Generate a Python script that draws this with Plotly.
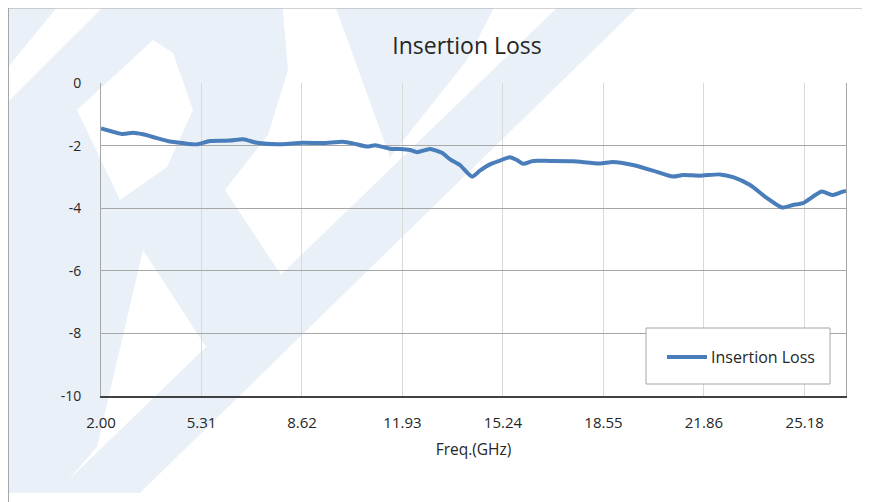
import plotly.graph_objects as go

# ---- data ----
freq_ghz = [2.00, 2.72, 3.05, 3.38, 3.84, 4.27, 4.70, 5.16, 5.59, 6.25, 6.68, 7.14, 7.80,
            8.65, 9.31, 9.97, 10.30, 10.76, 11.03, 11.52, 11.85, 12.18, 12.41, 12.84,
            13.23, 13.50, 13.82, 14.22, 14.48, 14.81, 15.14, 15.47, 15.70, 15.90, 16.23,
            16.79, 17.55, 18.44, 18.86, 19.52, 20.18, 20.84, 21.17, 21.73, 22.39, 22.82,
            23.38, 23.94, 24.43, 24.79, 25.12, 25.74, 26.08, 26.44, 26.54]
insertion_loss = [-1.45, -1.63, -1.59, -1.64, -1.76, -1.87, -1.92, -1.96, -1.85, -1.84,
                  -1.80, -1.91, -1.96, -1.91, -1.92, -1.88, -1.93, -2.03, -1.99, -2.10,
                  -2.11, -2.14, -2.21, -2.11, -2.23, -2.44, -2.62, -2.99, -2.80, -2.60,
                  -2.48, -2.37, -2.46, -2.58, -2.49, -2.49, -2.50, -2.57, -2.52, -2.62,
                  -2.80, -2.99, -2.94, -2.96, -2.92, -3.01, -3.26, -3.68, -3.98, -3.90,
                  -3.84, -3.47, -3.58, -3.47, -3.45]
x_tick_vals = [2.00, 5.31, 8.62, 11.93, 15.24, 18.55, 21.86, 25.18]
x_tick_text = ["2.00", "5.31", "8.62", "11.93", "15.24", "18.55", "21.86", "25.18"]
y_tick_vals = [0, -2, -4, -6, -8, -10]
y_tick_text = ["0", "-2", "-4", "-6", "-8", "-10"]
series_name = "Insertion Loss"

# ---- layout geometry (page pixels; the page body has an 8px margin) ----
OFF = 8
W, H = 870 - OFF, 502 - OFF
L, R, T, B = 101, 846, 83, 396
pw, ph = R - L, B - T


def px(x):
    return (x - L) / pw


def py(y):
    return (B - y) / ph


def poly(points):
    return "M " + " L ".join(f"{px(x):.4f},{py(y):.4f}" for x, y in points) + " Z"


wm = "#e9f0f8"
shapes = []
watermark = [
    [(0, 0), (63, 0), (0, 77)],
    [(565, 0), (645, 0), (140, 493), (55, 493)],
    [(333, 0), (498, 0), (467, 60), (390, 157)],
]
for pts in watermark:
    shapes.append(dict(type="path", xref="paper", yref="paper", path=poly(pts),
                       fillcolor=wm, line=dict(width=0), layer="below"))
r_outer = [(110, 0), (282, 0), (288, 70), (268, 135), (225, 190), (281, 275), (206, 347),
           (143, 250), (97, 447), (57, 493), (0, 493), (0, 110)]
r_hole = [(77, 110), (153, 40), (173, 53), (193, 110), (167, 167), (120, 200)]
shapes.append(dict(type="path", xref="paper", yref="paper",
                   path=poly(r_outer) + " " + poly(r_hole[::-1]),
                   fillcolor=wm, line=dict(width=0), layer="below"))

# outer chart frame (top and left)
shapes.append(dict(type="line", xref="paper", yref="paper", x0=px(8), x1=px(870),
                   y0=py(8), y1=py(8), line=dict(color="#a6a6a6", width=1)))
shapes.append(dict(type="line", xref="paper", yref="paper", x0=px(8.5), x1=px(8.5),
                   y0=py(8), y1=py(502), line=dict(color="#a6a6a6", width=1)))

# legend box
shapes.append(dict(type="rect", xref="paper", yref="paper", x0=px(646), x1=px(830),
                   y0=py(328), y1=py(384), fillcolor="white",
                   line=dict(color="#a6a6a6", width=1)))
shapes.append(dict(type="line", xref="paper", yref="paper", x0=px(667), x1=px(707),
                   y0=py(357), y1=py(357), line=dict(color="#4a7ebb", width=4)))

fig = go.Figure()
fig.add_trace(go.Scatter(x=freq_ghz, y=insertion_loss, mode="lines", name=series_name,
                         line=dict(color="#4a7ebb", width=4, shape="spline", smoothing=0.6),
                         showlegend=False))

fig.update_layout(
    width=W, height=H,
    margin=dict(l=L - OFF, r=870 - R, t=T - OFF, b=502 - B, pad=0),
    paper_bgcolor="white",
    plot_bgcolor="rgba(0,0,0,0)",
    font=dict(family="Open Sans", color="#404040", size=14),
    title=dict(text="Insertion Loss", x=(467 - OFF) / W, xref="container", xanchor="center",
               y=1 - (46 - OFF) / H, yref="container", yanchor="middle",
               font=dict(family="Open Sans", size=23, color="#262626")),
    shapes=shapes,
    annotations=[dict(text=series_name, xref="paper", yref="paper", x=px(709), y=py(357),
                      xanchor="left", yanchor="middle", showarrow=False,
                      font=dict(family="Open Sans", size=16, color="#262626"))],
    xaxis=dict(range=[2.0, 26.54], tickvals=x_tick_vals, ticktext=x_tick_text,
               showgrid=True, gridcolor="#d9d9d9", gridwidth=1, zeroline=False,
               showline=True, linecolor="#404040", linewidth=2,
               ticks="", ticklabelstandoff=12,
               tickfont=dict(size=15, color="#262626"),
               title=dict(text="Freq.(GHz)", standoff=13,
                          font=dict(size=15.5, color="#262626"))),
    yaxis=dict(range=[-10, 0], tickvals=y_tick_vals, ticktext=y_tick_text,
               showgrid=True, gridcolor="#a6a6a6",
               gridwidth=1, zeroline=False, showline=True, linecolor="#a6a6a6",
               linewidth=1, mirror=True, ticks="", ticklabelstandoff=16,
               tickfont=dict(size=14, color="#262626")),
)

fig.write_html("out.html")
